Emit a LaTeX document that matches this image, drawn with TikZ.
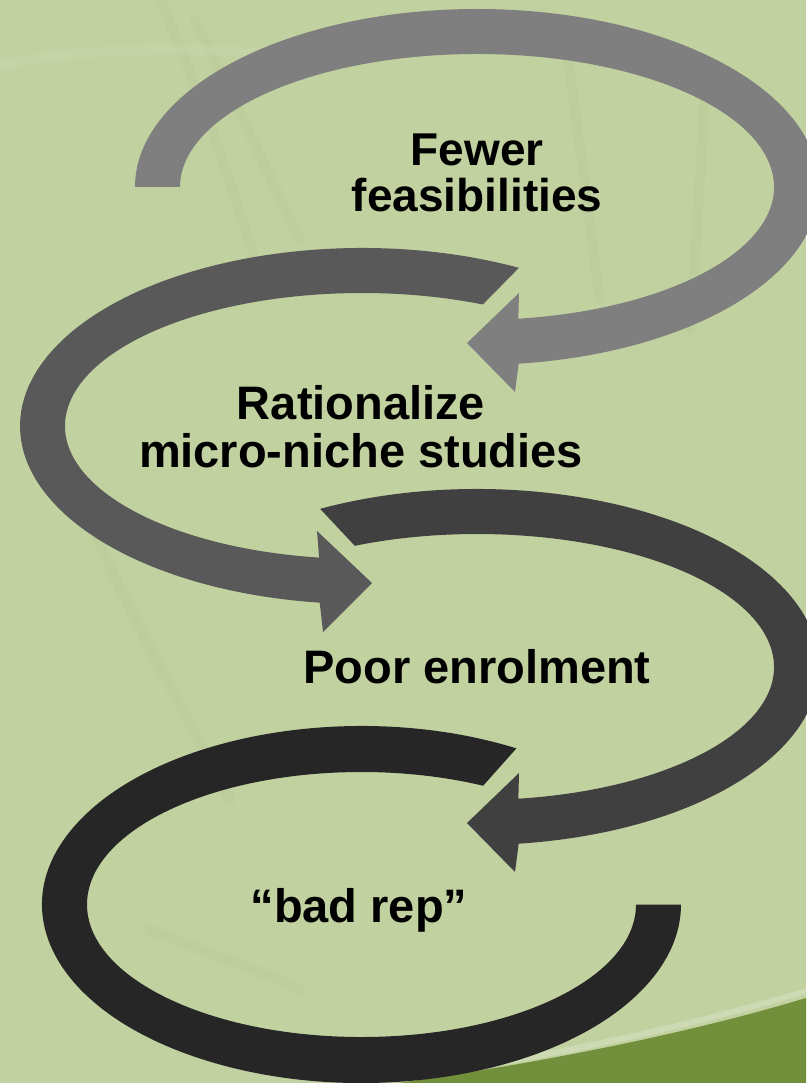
\documentclass[tikz,border=0pt]{standalone}
\usepackage{fontspec}
\setmainfont{Liberation Sans}
\usetikzlibrary{calc}

\definecolor{bggreen}{HTML}{C1D1A0}
\definecolor{swooshgreen}{HTML}{728F3B}
\definecolor{paleedge}{HTML}{D3DFBD}
\definecolor{streak}{HTML}{A8BE84}
\definecolor{loopA}{HTML}{7F7F7F}
\definecolor{loopB}{HTML}{595959}
\definecolor{loopC}{HTML}{404040}
\definecolor{loopD}{HTML}{262626}

\begin{document}
\begin{tikzpicture}[x=1pt, y=1pt]
\tikzstyle{caption} = [font=\bfseries\fontsize{47}{47.5}\selectfont, align=center, inner sep=0pt, anchor=base]
\tikzstyle{band} = [draw=none]
\tikzstyle{faint} = [streak, line width=10, opacity=0.12, line cap=round]

% background
\fill[bggreen] (0,0) rectangle (806,-1083);
\useasboundingbox (0,0) rectangle (806,-1083);
\draw[faint] (160,0) .. controls (200,-90) and (230,-180) .. (255,-260);
\draw[faint] (195,-20) .. controls (240,-110) and (280,-200) .. (300,-240);
\draw[faint] (565,-40) .. controls (580,-140) and (590,-230) .. (600,-300);
\draw[faint] (705,-90) .. controls (700,-180) and (695,-260) .. (690,-330);
\draw[faint, white, opacity=0.08] (0,-65) .. controls (100,-45) and (220,-45) .. (320,-60);
\draw[faint] (90,-520) .. controls (130,-620) and (190,-720) .. (230,-800);
\draw[faint] (150,-930) .. controls (200,-950) and (260,-970) .. (300,-990);
\fill[swooshgreen] (398,-1083) .. controls (560,-1060) and (700,-1030) .. (806,-998) -- (806,-1083) -- cycle;
\draw[paleedge, line width=6, opacity=0.7] (430,-1074) .. controls (575,-1052) and (700,-1023) .. (806,-991);

% loop 1
\fill[band, loopA] (477,-187) ++(180:342 and 178)
  arc[start angle=180, end angle=-83, x radius=342, y radius=178]
  -- (515,-392) -- (467,-343) -- (519,-293)
  -- ($(477,-187)+(-82:297 and 133)$)
  arc[start angle=-82, end angle=180, x radius=297, y radius=133] -- cycle;

% loop 2
\fill[band, loopB] (362,-426) ++(62.7:342 and 178)
  arc[start angle=62.7, end angle=262.9, x radius=342, y radius=178]
  -- (323,-632) -- (372,-583) -- (317,-531)
  -- ($(362,-426)+(261.7:297 and 133)$)
  arc[start angle=261.7, end angle=66, x radius=297, y radius=133] -- cycle;

% loop 3
\fill[band, loopC] (477,-667) ++(117.3:342 and 178)
  arc[start angle=117.3, end angle=-83, x radius=342, y radius=178]
  -- (515,-872) -- (467,-823) -- (519,-773)
  -- ($(477,-667)+(-82:297 and 133)$)
  arc[start angle=-82, end angle=114.3, x radius=297, y radius=133] -- cycle;

% loop 4, no head
\fill[band, loopD] (361.5,-904.5) ++(61:319.5 and 178.5)
  arc[start angle=61, end angle=360, x radius=319.5, y radius=178.5]
  -- ($(361.5,-904.5)+(0:274.5 and 132.5)$)
  arc[start angle=360, end angle=63.7, x radius=274.5, y radius=132.5] -- cycle;

\node[caption, font=\bfseries\fontsize{46}{47}\selectfont] (fewer) at (477,-212) {Fewer\\feasibilities};
\node[caption] (rational) at (361,-467) {Rationalize\\micro-niche studies};
\node[caption] (enrol) at (477,-683) {Poor enrolment};
\node[caption] (badrep) at (359,-922) {“bad rep”};
\end{tikzpicture}
\end{document}
